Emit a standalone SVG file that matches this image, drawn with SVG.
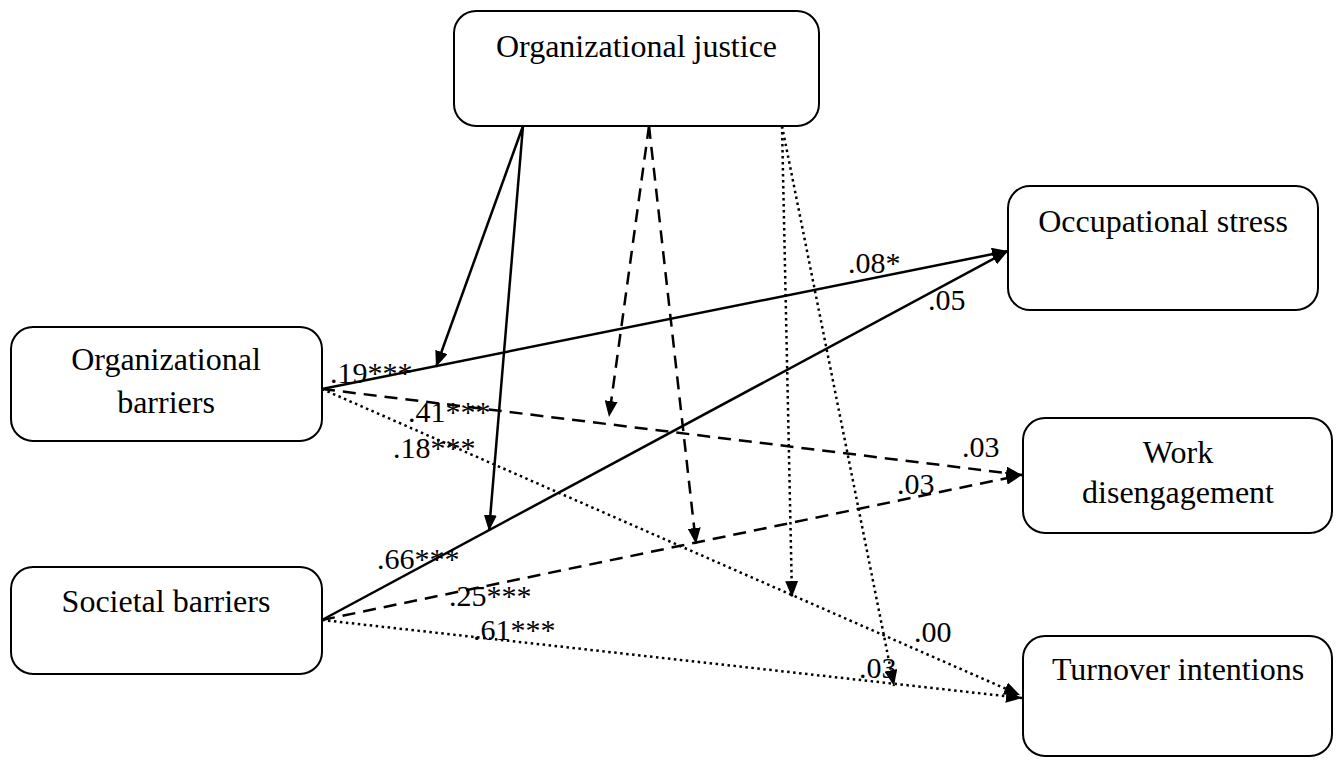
<svg xmlns="http://www.w3.org/2000/svg" width="1340" height="759" viewBox="0 0 1340 759">
<style>
.box{fill:#fff;stroke:#000;stroke-width:2}
.t{font-family:"Liberation Serif","Times New Roman",serif;font-size:32px;fill:#000;text-anchor:middle}
.l{font-family:"Liberation Serif","Times New Roman",serif;font-size:30px;fill:#000}
.solid{stroke:#000;stroke-width:2.5;fill:none}
.dash{stroke:#000;stroke-width:2.5;fill:none;stroke-dasharray:13 8}
.dot{stroke:#000;stroke-width:2.5;fill:none;stroke-dasharray:2.5 3.5}
</style>
<defs>
<marker id="ah" markerUnits="userSpaceOnUse" markerWidth="17" markerHeight="13" refX="16" refY="6.5" orient="auto">
<path d="M0,0 L16,6.5 L0,13 z" fill="#000" stroke="none"/>
</marker>
</defs>
<rect width="1340" height="759" fill="#fff"/>
<g id="connectors">
<line class="solid" x1="322" y1="389" x2="1008" y2="251" marker-end="url(#ah)"/>
<line class="dash" x1="322" y1="389" x2="1022" y2="475" marker-end="url(#ah)"/>
<line class="dot" x1="322" y1="389" x2="1020" y2="695" marker-end="url(#ah)"/>
<line class="solid" x1="322" y1="620" x2="1008" y2="251" marker-end="url(#ah)"/>
<line class="dash" x1="322" y1="620" x2="1022" y2="475" marker-end="url(#ah)"/>
<line class="dot" x1="322" y1="620" x2="1022" y2="698" marker-end="url(#ah)"/>
<line class="solid" x1="523" y1="126" x2="436" y2="367" marker-end="url(#ah)"/>
<line class="solid" x1="523" y1="126" x2="489" y2="531" marker-end="url(#ah)"/>
<line class="dash" x1="649" y1="126" x2="609" y2="417" marker-end="url(#ah)"/>
<line class="dash" x1="649" y1="126" x2="696" y2="544" marker-end="url(#ah)"/>
<line class="dot" x1="782" y1="126" x2="792" y2="597" marker-end="url(#ah)"/>
<line class="dot" x1="782" y1="126" x2="894" y2="686" marker-end="url(#ah)"/>
</g>
<g id="labels">
<text class="l" x="330" y="383">.19***</text>
<text class="l" x="408" y="422">.41***</text>
<text class="l" x="393" y="458">.18***</text>
<text class="l" x="377" y="569">.66***</text>
<text class="l" x="449" y="606">.25***</text>
<text class="l" x="473" y="640">.61***</text>
<text class="l" x="848" y="273">.08*</text>
<text class="l" x="928" y="310">.05</text>
<text class="l" x="962" y="457">.03</text>
<text class="l" x="897" y="494">.03</text>
<text class="l" x="914" y="642">.00</text>
<text class="l" x="859" y="678">.03</text>
</g>
<g id="node-justice">
<rect class="box" x="454" y="11" width="365" height="115" rx="22"/>
<text class="t" x="636.5" y="57">Organizational justice</text>
</g>
<g id="node-stress">
<rect class="box" x="1008" y="186" width="310" height="124" rx="22"/>
<text class="t" x="1163" y="232">Occupational stress</text>
</g>
<g id="node-orgbarriers">
<rect class="box" x="11" y="327" width="311" height="114" rx="22"/>
<text class="t" x="166" y="370">Organizational</text>
<text class="t" x="166" y="413">barriers</text>
</g>
<g id="node-disengagement">
<rect class="box" x="1023" y="418" width="309" height="115" rx="22"/>
<text class="t" x="1178" y="463">Work</text>
<text class="t" x="1178" y="503">disengagement</text>
</g>
<g id="node-societal">
<rect class="box" x="11" y="567" width="311" height="107" rx="22"/>
<text class="t" x="166" y="612">Societal barriers</text>
</g>
<g id="node-turnover">
<rect class="box" x="1023" y="636" width="309" height="120" rx="22"/>
<text class="t" x="1178" y="680">Turnover intentions</text>
</g>
</svg>
